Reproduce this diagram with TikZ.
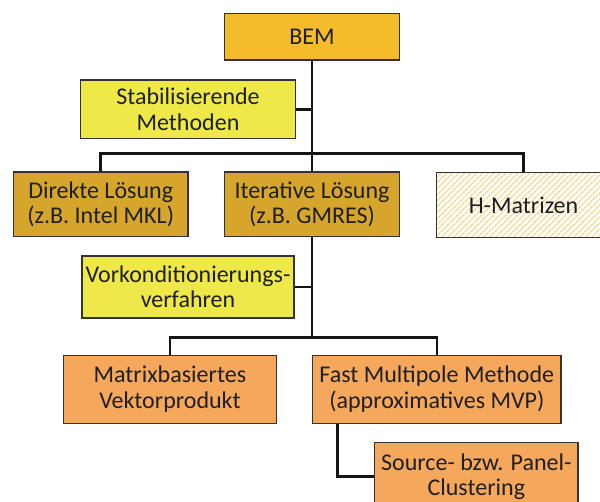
\documentclass[tikz,border=0pt]{standalone}
\usepackage{fontspec}
\setmainfont{Carlito}
\usetikzlibrary{patterns.meta}
\definecolor{bemc}{HTML}{F4BB2B}
\definecolor{yelc}{HTML}{EEE948}
\definecolor{goldc}{HTML}{D6A52B}
\definecolor{orc}{HTML}{F5A85C}
\definecolor{hatchc}{HTML}{F0D88A}
\definecolor{edgec}{HTML}{333333}
\begin{document}
\begin{tikzpicture}[x=1pt,y=-1pt,
  box/.style={draw=edgec,line width=1.2pt,align=center,inner sep=0pt,
    font=\fontsize{24}{25.5}\selectfont,text=black!88},
  conn/.style={line width=2.6pt,black!92}]
\clip (0,0) rectangle (600,501);
\fill[white] (0,0) rectangle (600,501);
\node[box,fill=bemc,minimum width=175pt,minimum height=46.7pt] (bem) at (312,36.7) {BEM};
\node[box,fill=yelc,minimum width=214.7pt,minimum height=58.3pt] (stab) at (188,109.2) {Stabilisierende\\Methoden};
\node[box,fill=goldc,minimum width=174.6pt,minimum height=64.7pt] (dir) at (100.7,204.3) {Direkte Lösung\\(z.B. Intel MKL)};
\node[box,fill=goldc,minimum width=175pt,minimum height=64.7pt] (iter) at (312,204.3) {Iterative Lösung\\(z.B. GMRES)};
\node[box,pattern={Lines[angle=45,distance=4pt,line width=1.4pt]},pattern color=hatchc,minimum width=174.4pt,minimum height=65.5pt] (hm) at (523.5,205) {H-Matrizen};
\node[box,fill=yelc,minimum width=212pt,minimum height=62pt] (vork) at (188,287) {Vorkonditionierungs-\\verfahren};
\node[box,fill=orc,minimum width=212.8pt,minimum height=68pt] (mat) at (169.9,389.3) {Matrixbasiertes\\Vektorprodukt};
\node[box,fill=orc,minimum width=248.3pt,minimum height=68pt] (fmm) at (436.85,389.3) {Fast Multipole Methode\\(approximatives MVP)};
\node[box,fill=orc,minimum width=203.3pt,minimum height=68pt] (src) at (476.3,476.7) {Source- bzw. Panel-\\Clustering};
\coordinate (bar1) at (312,153.3);
\coordinate (bar2) at (312,337.3);
\draw[conn] (bem.south) -- (iter.north);
\draw[conn] (stab.east) -- (stab.east -| bem.south);
\draw[conn] (dir.north) -- (dir.north |- bar1) -- (hm.north |- bar1) -- (hm.north);
\draw[conn] (iter.south) -- (bar2);
\draw[conn] (vork.east) -- (vork.east -| iter.south);
\draw[conn] (mat.north) -- (mat.north |- bar2) -- (fmm.north |- bar2) -- (fmm.north);
\draw[conn] ([xshift=25.3pt]fmm.south west) |- (src.west);
\end{tikzpicture}
\end{document}
